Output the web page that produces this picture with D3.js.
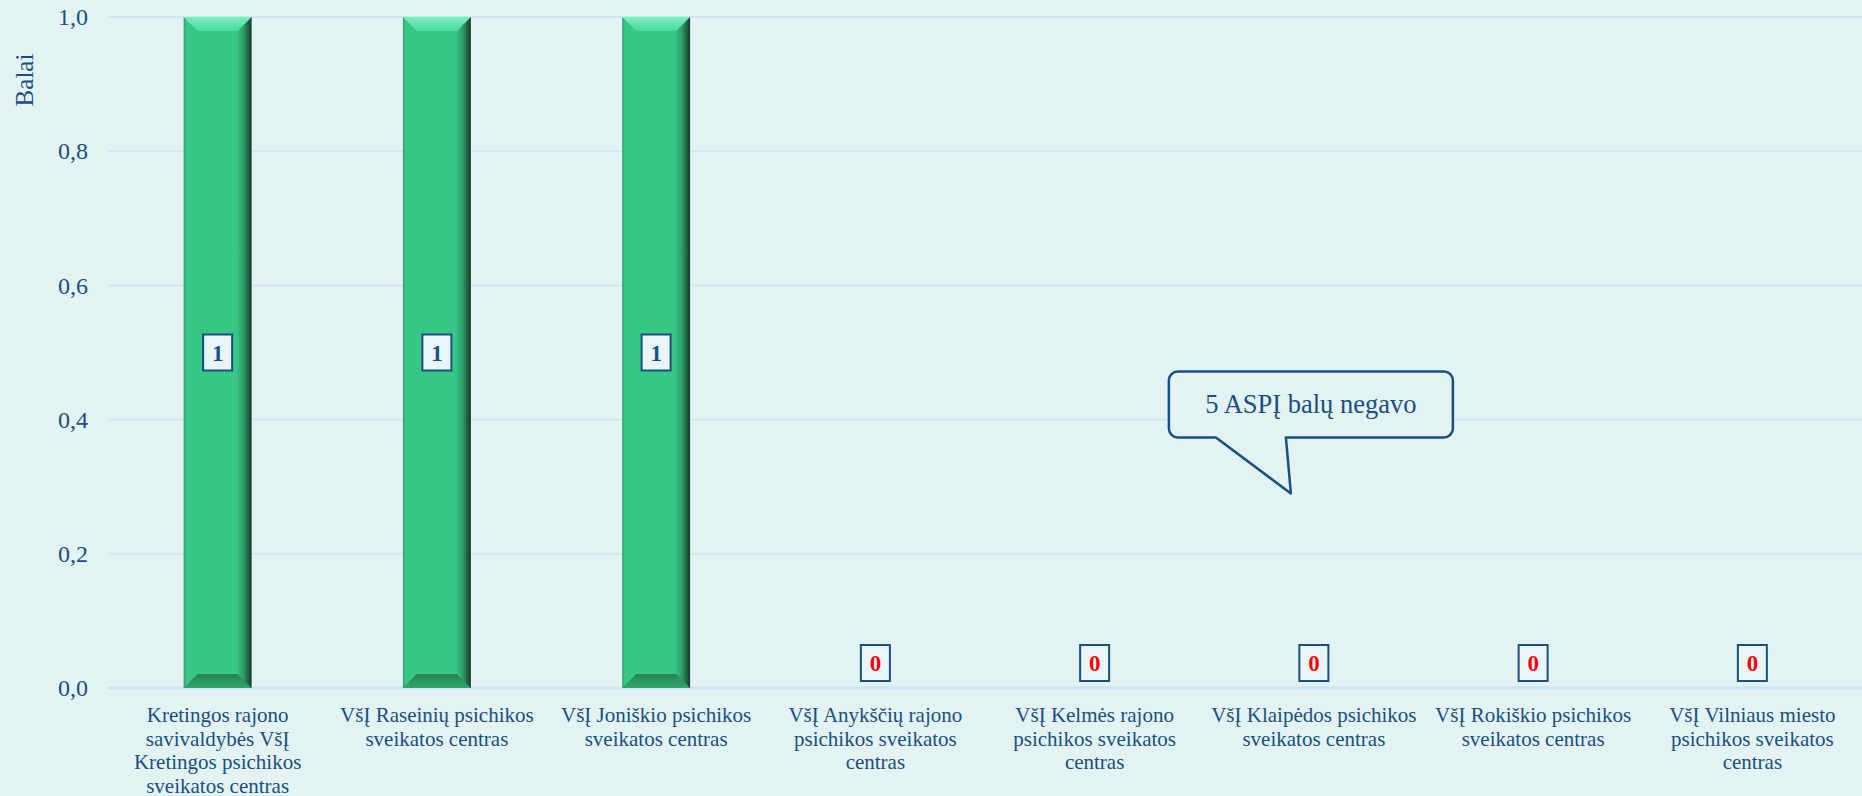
<!DOCTYPE html>
<html>
<head>
<meta charset="utf-8">
<script src="https://cdn.jsdelivr.net/npm/d3@7"></script>
<style>
  html, body { margin: 0; padding: 0; background: #e3f2f3; }
  svg { display: block; font-family: "Liberation Serif", "Times New Roman", serif; }
</style>
</head>
<body>
<svg id="chart"></svg>
<script>
// --- data ---
const categories = [
    'Kretingos rajono\nsavivaldybės VšĮ\nKretingos psichikos\nsveikatos centras',
    'VšĮ Raseinių psichikos\nsveikatos centras',
    'VšĮ Joniškio psichikos\nsveikatos centras',
    'VšĮ Anykščių rajono\npsichikos sveikatos\ncentras',
    'VšĮ Kelmės rajono\npsichikos sveikatos\ncentras',
    'VšĮ Klaipėdos psichikos\nsveikatos centras',
    'VšĮ Rokiškio psichikos\nsveikatos centras',
    'VšĮ Vilniaus miesto\npsichikos sveikatos\ncentras'
];
const values = [1, 1, 1, 0, 0, 0, 0, 0];
const yTicks = [0, 0.2, 0.4, 0.6, 0.8, 1.0];
const yTitle = 'Balai';
const noteText = '5 ASPĮ balų negavo';

const width = 1862, height = 796;
const margin = { top: 17, right: 0, bottom: 108, left: 108 };
const textColor = '#175084';

const svg = d3.select('#chart').attr('width', width).attr('height', height);
svg.append('rect').attr('width', width).attr('height', height).attr('fill', '#e3f2f3');

const x = d3.scaleBand()
    .domain(categories)
    .range([margin.left, width - margin.right])
    .paddingInner(0.69)
    .paddingOuter(0.345);

const y = d3.scaleLinear()
    .domain([0, 1])
    .range([height - margin.bottom, margin.top]);

// gradients for the bevelled bars
const defs = svg.append('defs');
const side = defs.append('linearGradient').attr('id', 'barSide').attr('x1', 0).attr('x2', 1).attr('y1', 0).attr('y2', 0);
[['0%', '#3a9a74'], ['4%', '#36c787'], ['78%', '#36c787'], ['88%', '#2c9c67'], ['96%', '#1d5a3c'], ['100%', '#16382a']]
    .forEach(s => side.append('stop').attr('offset', s[0]).attr('stop-color', s[1]));
const topG = defs.append('linearGradient').attr('id', 'barTop').attr('x1', 0).attr('x2', 0).attr('y1', 0).attr('y2', 1);
[['0%', '#78f0bd'], ['100%', '#4fd89c']].forEach(s => topG.append('stop').attr('offset', s[0]).attr('stop-color', s[1]));
const botG = defs.append('linearGradient').attr('id', 'barBot').attr('x1', 0).attr('x2', 0).attr('y1', 0).attr('y2', 1);
[['0%', '#27824f'], ['100%', '#2fa86f']].forEach(s => botG.append('stop').attr('offset', s[0]).attr('stop-color', s[1]));

// gridlines
const yAxis = d3.axisLeft(y).tickValues(yTicks).tickSize(0).tickPadding(20)
    .tickFormat(d => d3.format('.1f')(d).replace('.', ','));

svg.append('g')
    .selectAll('line')
    .data(yTicks)
    .join('line')
    .attr('x1', margin.left)
    .attr('x2', width - margin.right)
    .attr('y1', d => y(d))
    .attr('y2', d => y(d))
    .attr('stroke', d => d === 0 ? '#c6e5fa' : '#cbe8f8')
    .attr('stroke-width', d => d === 0 ? 3 : 2);

const gy = svg.append('g')
    .attr('transform', `translate(${margin.left},0)`)
    .call(yAxis);
gy.select('.domain').remove();
gy.selectAll('text')
    .attr('fill', textColor)
    .attr('font-size', '24px')
    .attr('font-family', '"Liberation Serif", serif');

svg.append('text')
    .attr('transform', `translate(33,${y(1) + 63}) rotate(-90)`)
    .attr('text-anchor', 'middle')
    .attr('fill', textColor)
    .attr('font-size', '25px')
    .text(yTitle);

// bars
const bevel = 14;
const bars = svg.append('g')
    .selectAll('g')
    .data(categories.map((c, i) => ({ cat: c, value: values[i] })).filter(d => d.value > 0))
    .join('g');

bars.append('rect')
    .attr('x', d => x(d.cat))
    .attr('y', d => y(d.value))
    .attr('width', x.bandwidth())
    .attr('height', d => y(0) - y(d.value))
    .attr('fill', 'url(#barSide)');

bars.append('path')
    .attr('fill', 'url(#barTop)')
    .attr('d', d => {
        const x0 = x(d.cat), x1 = x0 + x.bandwidth(), y0 = y(d.value);
        return `M${x0},${y0}L${x1},${y0}L${x1 - bevel},${y0 + bevel}L${x0 + bevel},${y0 + bevel}Z`;
    });

bars.append('path')
    .attr('fill', 'url(#barBot)')
    .attr('d', d => {
        const x0 = x(d.cat), x1 = x0 + x.bandwidth(), y0 = y(0);
        return `M${x0},${y0}L${x1},${y0}L${x1 - bevel},${y0 - bevel}L${x0 + bevel},${y0 - bevel}Z`;
    });

// value labels in boxes
const labels = svg.append('g')
    .selectAll('g')
    .data(categories.map((c, i) => ({ cat: c, value: values[i] })))
    .join('g')
    .attr('transform', d => {
        const cx = x(d.cat) + x.bandwidth() / 2;
        const cy = d.value > 0 ? y(d.value / 2) : y(0) - 25;
        return `translate(${cx},${cy})`;
    });

labels.append('rect')
    .attr('x', -14.5)
    .attr('y', -18)
    .attr('width', 29)
    .attr('height', 36)
    .attr('fill', '#e9f5f8')
    .attr('stroke', '#175084')
    .attr('stroke-width', 2);

labels.append('text')
    .attr('text-anchor', 'middle')
    .attr('dy', '0.35em')
    .attr('font-weight', 'bold')
    .attr('font-size', '23px')
    .attr('fill', d => d.value > 0 ? textColor : '#ff0000')
    .text(d => d.value);

// category labels
const xLabels = svg.append('g')
    .selectAll('text')
    .data(categories)
    .join('text')
    .attr('text-anchor', 'middle')
    .attr('fill', textColor)
    .attr('font-size', '21px')
    .attr('x', d => x(d) + x.bandwidth() / 2)
    .attr('y', y(0) + 34);

xLabels.each(function(d) {
    const el = d3.select(this);
    d.split('\n').forEach((line, i) => {
        el.append('tspan')
            .attr('x', x(d) + x.bandwidth() / 2)
            .attr('dy', i === 0 ? 0 : 23.5)
            .text(line);
    });
});

// callout
const tipX = x(categories[5]) + x.bandwidth() / 2 - 23;
const tipY = y(0.29);
const bx0 = tipX - 122, bx1 = tipX + 162, by0 = tipY - 122, by1 = tipY - 56, r = 9;
const callout = d3.path();
callout.moveTo(bx0 + r, by0);
callout.lineTo(bx1 - r, by0);
callout.arcTo(bx1, by0, bx1, by0 + r, r);
callout.lineTo(bx1, by1 - r);
callout.arcTo(bx1, by1, bx1 - r, by1, r);
callout.lineTo(tipX - 5, by1);
callout.lineTo(tipX, tipY);
callout.lineTo(bx0 + 47, by1);
callout.lineTo(bx0 + r, by1);
callout.arcTo(bx0, by1, bx0, by1 - r, r);
callout.lineTo(bx0, by0 + r);
callout.arcTo(bx0, by0, bx0 + r, by0, r);
callout.closePath();

svg.append('path')
    .attr('d', callout.toString())
    .attr('fill', '#e3f2f3')
    .attr('stroke', '#175084')
    .attr('stroke-width', 2.5)
    .attr('stroke-linejoin', 'round');

svg.append('text')
    .attr('x', (bx0 + bx1) / 2)
    .attr('y', (by0 + by1) / 2 + 9)
    .attr('text-anchor', 'middle')
    .attr('fill', textColor)
    .attr('font-size', '26.5px')
    .text(noteText);
</script>
</body>
</html>
